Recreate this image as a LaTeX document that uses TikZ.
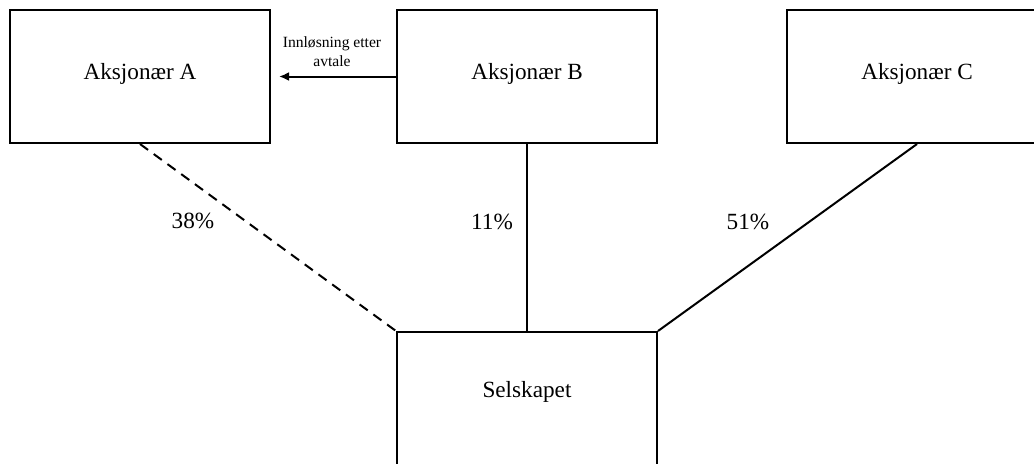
\documentclass[tikz,border=0pt]{standalone}
\usepackage{fontspec}
\setmainfont{Liberation Serif}
\usetikzlibrary{arrows.meta}
\begin{document}
\begin{tikzpicture}[x=0.5pt,y=-0.5pt,
  box/.style={draw,line width=1pt,minimum width=130pt,minimum height=66.5pt,inner sep=0pt},
  boxtext/.style={font=\fontsize{11.6}{14}\selectfont,inner sep=0pt},
  pct/.style={font=\fontsize{11.6}{14}\selectfont,inner sep=0pt},
  link/.style={line width=1pt},
  smalltext/.style={font=\fontsize{7.8}{9.5}\selectfont,align=center,inner sep=0pt}]
\useasboundingbox (0,0) rectangle (1034,463);
\node[box] (A) at (140,76.5) {};
\node[box] (B) at (527,76.5) {};
\node[box] (C) at (917,76.5) {};
\node[box] (S) at (527,398.5) {};
\node[boxtext] (At) at (140,74) {Aksjonær A};
\node[boxtext] (Bt) at (527,74) {Aksjonær B};
\node[boxtext] (Ct) at (917,74) {Aksjonær C};
\node[boxtext] (St) at (527,392) {Selskapet};
\draw[link,-{Latex[length=5pt,width=4.5pt]},shorten >=4pt] (B.west) -- (A.east);
\node[smalltext] (L) at (332,52) {Innløsning etter\\avtale};
\draw[link,dash pattern=on 5pt off 3.5pt] (A.south) -- (S.north west);
\draw[link] (B.south) -- (S.north);
\draw[link] (C.south) -- (S.north east);
\node[pct] (p38) at (193,221) {38\%};
\node[pct] (p11) at (492,222) {11\%};
\node[pct] (p51) at (748,222) {51\%};
\end{tikzpicture}
\end{document}
